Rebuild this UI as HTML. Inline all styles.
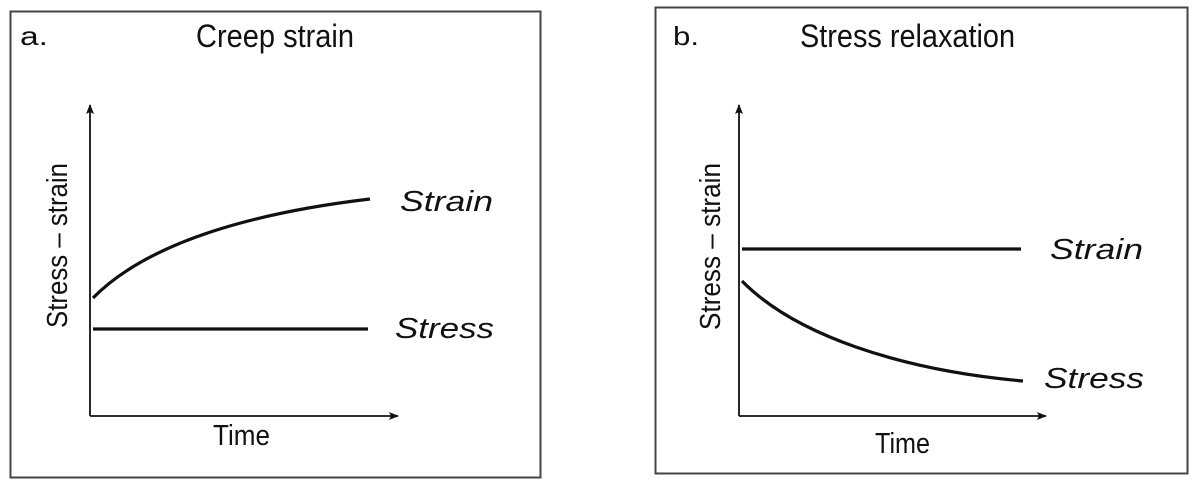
<!DOCTYPE html>
<html><head><meta charset="utf-8"><style>html,body{margin:0;padding:0;background:#fff}svg{display:block}</style></head>
<body>
<svg width="1198" height="485" viewBox="0 0 1198 485" xmlns="http://www.w3.org/2000/svg" font-family="Liberation Sans, sans-serif" fill="#111">
<defs>
<marker id="ah" markerWidth="10" markerHeight="8" refX="9" refY="4" orient="auto" markerUnits="userSpaceOnUse">
<path d="M0,0 L10,4 L0,8 L2,4 Z" fill="#111"/>
</marker>
</defs>
<!-- Panel a -->
<rect x="10.5" y="11.5" width="530" height="466" fill="none" stroke="#444" stroke-width="2"/>
<text x="20" y="45" font-size="26" textLength="28" lengthAdjust="spacingAndGlyphs">a.</text>
<text x="196" y="47" font-size="32" textLength="158" lengthAdjust="spacingAndGlyphs">Creep strain</text>
<line x1="90" y1="416" x2="90" y2="105" stroke="#111" stroke-width="1.8" marker-end="url(#ah)"/>
<line x1="90" y1="416" x2="398" y2="416" stroke="#111" stroke-width="1.8" marker-end="url(#ah)"/>
<path d="M93,298 C150,240 260,212 370,199" fill="none" stroke="#111" stroke-width="3.2"/>
<line x1="93" y1="329" x2="368" y2="329" stroke="#111" stroke-width="3.2"/>
<text x="400" y="211" font-size="29" font-style="italic" textLength="93" lengthAdjust="spacingAndGlyphs">Strain</text>
<text x="395" y="338" font-size="29" font-style="italic" textLength="99" lengthAdjust="spacingAndGlyphs">Stress</text>
<text x="213" y="445" font-size="29" textLength="57" lengthAdjust="spacingAndGlyphs">Time</text>
<text transform="translate(67,328) rotate(-90)" font-size="29" textLength="165" lengthAdjust="spacingAndGlyphs">Stress – strain</text>
<!-- Panel b -->
<rect x="655.5" y="7.5" width="532" height="466" fill="none" stroke="#444" stroke-width="2"/>
<text x="673" y="45" font-size="26" textLength="26" lengthAdjust="spacingAndGlyphs">b.</text>
<text x="800" y="47" font-size="32" textLength="215" lengthAdjust="spacingAndGlyphs">Stress relaxation</text>
<line x1="739" y1="416" x2="739" y2="105" stroke="#111" stroke-width="1.8" marker-end="url(#ah)"/>
<line x1="739" y1="416" x2="1046" y2="416" stroke="#111" stroke-width="1.8" marker-end="url(#ah)"/>
<line x1="742" y1="249" x2="1021" y2="249" stroke="#111" stroke-width="3.2"/>
<path d="M742,281 C795,335 900,370 1023,381" fill="none" stroke="#111" stroke-width="3.2"/>
<text x="1050" y="259" font-size="29" font-style="italic" textLength="93" lengthAdjust="spacingAndGlyphs">Strain</text>
<text x="1044" y="388" font-size="29" font-style="italic" textLength="100" lengthAdjust="spacingAndGlyphs">Stress</text>
<text x="875" y="453" font-size="29" textLength="55" lengthAdjust="spacingAndGlyphs">Time</text>
<text transform="translate(720,330) rotate(-90)" font-size="29" textLength="167" lengthAdjust="spacingAndGlyphs">Stress – strain</text>
</svg>
</body></html>
